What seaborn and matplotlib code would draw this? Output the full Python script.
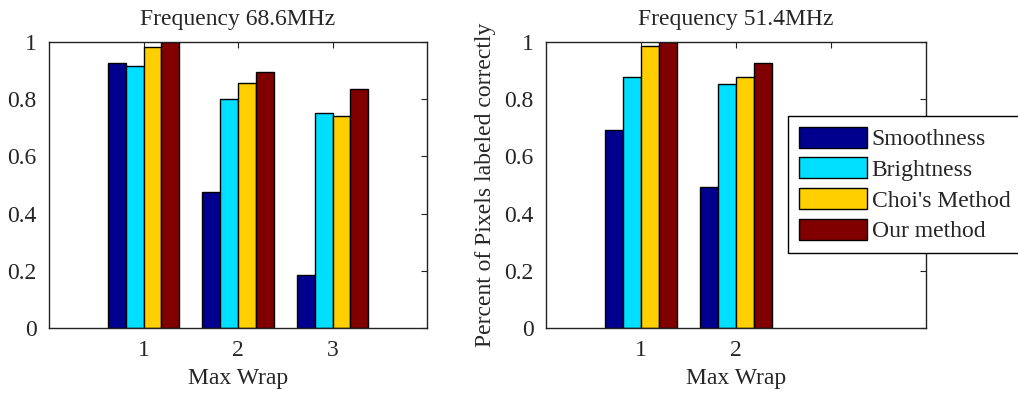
import matplotlib
matplotlib.use("Agg")
import matplotlib.pyplot as plt
import seaborn as sns
import pandas as pd

# Series names and the MATLAB-jet style colours used for each method
methods = ["Smoothness", "Brightness", "Choi's Method", "Our method"]
colors = ["#00008F", "#00DFFF", "#FFCF00", "#800000"]

# Max-wrap values for each frequency
wraps_686 = [1, 2, 3]
wraps_514 = [1, 2]

# Fraction of pixels labelled correctly, per method (rows) and max wrap (columns)
smooth_686 = [0.925, 0.475, 0.184]
bright_686 = [0.917, 0.800, 0.751]
choi_686 = [0.984, 0.858, 0.740]
ours_686 = [1.000, 0.895, 0.836]

smooth_514 = [0.693, 0.492]
bright_514 = [0.877, 0.852]
choi_514 = [0.987, 0.877]
ours_514 = [1.000, 0.925]

ytick_vals = [0, 0.2, 0.4, 0.6, 0.8, 1.0]
ytick_labels = ["0", "0.2", "0.4", "0.6", "0.8", "1"]

FS = 17


def long_table(wraps, series):
    rows = []
    for name, vals in zip(methods, series):
        for w, v in zip(wraps, vals):
            rows.append({"wrap": w, "method": name, "value": v})
    return pd.DataFrame(rows)


df_686 = long_table(wraps_686, [smooth_686, bright_686, choi_686, ours_686])
df_514 = long_table(wraps_514, [smooth_514, bright_514, choi_514, ours_514])

sns.set_style("white")
plt.rcParams["font.family"] = ["Liberation Serif", "DejaVu Serif"]
plt.rcParams["font.size"] = FS

W, H = 1018, 394
fig = plt.figure(figsize=(W / 100, H / 100), dpi=100)
ax1 = fig.add_axes([49 / W, 1 - 328 / H, (427 - 49) / W, (328 - 42) / H])
ax2 = fig.add_axes([546 / W, 1 - 328 / H, (926 - 546) / W, (328 - 42) / H])


def draw(ax, df, title, xlabels):
    sns.barplot(data=df, x="wrap", y="value", hue="method", hue_order=methods,
                palette=colors, native_scale=True, width=0.76, saturation=1,
                edgecolor="black", linewidth=1.0, legend=False, ax=ax,
                errorbar=None)
    ax.set_xlim(0, 4)
    ax.set_ylim(0, 1)
    ax.set_xticks([1, 2, 3])
    ax.set_xticklabels(xlabels)
    ax.set_yticks(ytick_vals)
    ax.set_yticklabels(ytick_labels)
    ax.tick_params(direction="in", length=4, width=0.8, color="#222222",
                   top=True, right=True, labelsize=FS, pad=9)
    ax.set_title(title, fontsize=FS, pad=12)
    ax.set_xlabel("Max Wrap", fontsize=FS, labelpad=5)
    ax.set_ylabel("")
    for s in ax.spines.values():
        s.set_color("#222222")
        s.set_linewidth(1.0)
        s.set_visible(True)


draw(ax1, df_686, "Frequency 68.6MHz", ["1", "2", "3"])
draw(ax2, df_514, "Frequency 51.4MHz", ["1", "2", ""])
ax2.set_ylabel("Percent of Pixels labeled correctly", fontsize=FS, labelpad=6)

leg = ax2.legend(handles=ax2.containers, labels=methods, loc="upper left",
                 bbox_to_anchor=(788 / W, 1 - 116 / H),
                 bbox_transform=fig.transFigure, borderaxespad=0,
                 fontsize=FS, frameon=True, fancybox=False, framealpha=1,
                 edgecolor="black", handlelength=2.9, handleheight=1.0,
                 handletextpad=0.2, labelspacing=0.30, borderpad=0.45)
leg.get_frame().set_linewidth(1.0)

fig.savefig("out.png", dpi=100)
